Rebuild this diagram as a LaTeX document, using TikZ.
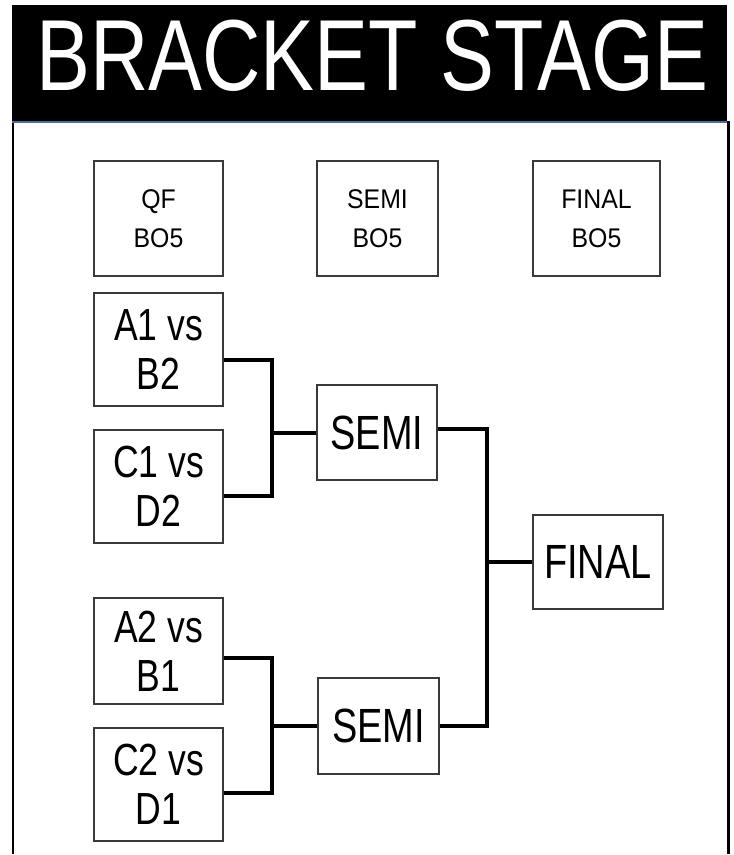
\documentclass[tikz,border=0pt]{standalone}
\usepackage{fontspec}
\setmainfont{Liberation Sans}
\newfontfamily\titlefont[FakeStretch=0.8]{Liberation Sans}
\newfontfamily\boxfont[FakeStretch=0.79]{Liberation Sans}
\newfontfamily\headfont[FakeStretch=0.92]{Liberation Sans}
\definecolor{boxgray}{HTML}{3A3A3A}
\definecolor{bandblue}{HTML}{4A6E9C}
\tikzset{
  pbox/.style={draw=boxgray, line width=2pt, fill=white, inner sep=0pt, align=center, text=black},
  headbox/.style={pbox, minimum height=115pt, font=\headfont\fontsize{27}{39}\selectfont},
  matchbox/.style={pbox, minimum width=129pt, font=\boxfont\fontsize{45}{49}\selectfont},
  roundbox/.style={pbox, font=\boxfont\fontsize{48}{52}\selectfont},
  conn/.style={draw=black, line width=4pt, line cap=butt},
  frameline/.style={draw=black, line width=2.5pt}
}
\begin{document}
\begin{tikzpicture}[x=1pt, y=-1pt]
\useasboundingbox (0,0) rectangle (734,855);
% header
\fill[black] (12,5) rectangle (727,121);
\fill[bandblue] (12,120.5) rectangle (727,123);
\node[anchor=base, text=white, inner sep=0pt, font=\titlefont\fontsize{101}{101}\selectfont] (title) at (372.5,90) {BRACKET STAGE};
% frame sides
\coordinate (fl1) at (13,123);
\coordinate (fl2) at (13,854);
\coordinate (fr1) at (728.5,121);
\coordinate (fr2) at (728.5,854);
\draw[frameline] (fl1) -- (fl2);
\draw[frameline, line width=3pt] (fr1) -- (fr2);
% column headings
\node[headbox, minimum width=129pt] (hqf) at (158.5,218.5) {QF\\BO5};
\node[headbox, minimum width=121pt] (hsemi) at (377.5,218.5) {SEMI\\BO5};
\node[headbox, minimum width=127pt] (hfinal) at (596.5,218.5) {FINAL\\BO5};
% quarter finals
\node[matchbox, minimum height=113pt] (a1) at (158.5,349.5) {A1 vs\\B2};
\node[matchbox, minimum height=113pt] (c1) at (158.5,486.5) {C1 vs\\D2};
\node[matchbox, minimum height=106pt] (a2) at (158.5,651) {A2 vs\\B1};
\node[matchbox, minimum height=113pt] (c2) at (158.5,784.5) {C2 vs\\D1};
% semis and final
\node[roundbox, minimum width=120pt, minimum height=95pt] (s1) at (377,432.5) {SEMI};
\node[roundbox, minimum width=121pt, minimum height=96pt] (s2) at (378.5,726) {SEMI};
\node[roundbox, minimum width=130pt, minimum height=94pt] (fin) at (598,562) {FINAL};
% junction columns
\coordinate (v1) at (272,0);
\coordinate (v2) at (487,0);
% connectors
\draw[conn] ([yshift=-10.5pt]a1.east) -| (v1 |- s1.west) |- ([yshift=-9.5pt]c1.east);
\draw[conn] (v1 |- s1.west) -- (s1.west);
\draw[conn] ([yshift=-7pt]a2.east) -| (v1 |- s2.west) |- ([yshift=-8.5pt]c2.east);
\draw[conn] (v1 |- s2.west) -- (s2.west);
\draw[conn] ([yshift=3.5pt]s1.east) -| (v2 |- fin.west) |- (s2.east);
\draw[conn] (v2 |- fin.west) -- (fin.west);
\end{tikzpicture}
\end{document}
